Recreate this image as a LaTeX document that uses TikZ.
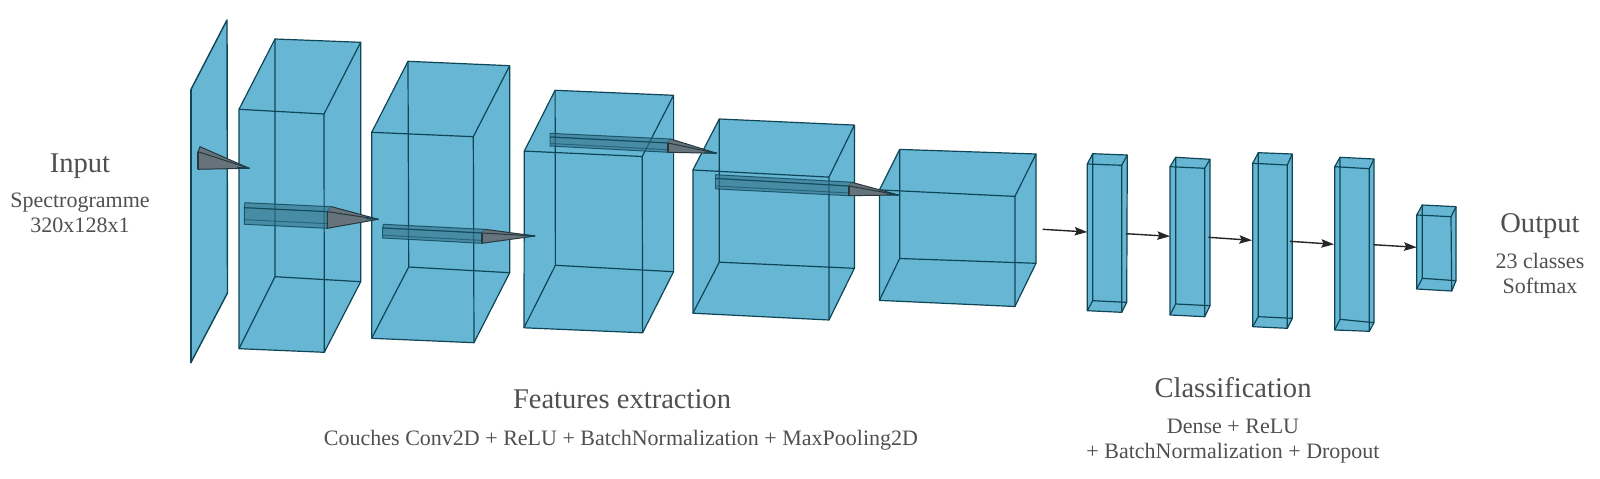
\documentclass[tikz,border=0pt]{standalone}
\usepackage{fontspec}
\setmainfont{Liberation Serif}
\usetikzlibrary{arrows.meta,calc}
\definecolor{boxfill}{HTML}{67B6D3}
\definecolor{boxedge}{HTML}{0E4557}
\definecolor{labelgrey}{HTML}{505050}
\definecolor{tubefill}{HTML}{35718A}
\definecolor{conefill}{HTML}{66737A}
\definecolor{conedark}{HTML}{26373F}
\tikzset{
  boxbody/.style={fill=boxfill,draw=none},
  boxline/.style={draw=boxedge,line width=0.85pt,line join=round},
  tubebody/.style={fill=tubefill,fill opacity=0.62,draw=boxedge,draw opacity=0.8,line width=0.7pt,line join=round},
  conebody/.style={fill=conefill,draw=conedark,line width=0.7pt,line join=round},
  flowarrow/.style={draw=black!85,line width=1pt,-{Stealth[length=9pt,width=6pt,inset=1.5pt]}},
  title/.style={text=labelgrey,anchor=base,inner sep=0pt,font=\fontsize{20.3}{24}\selectfont},
  sublabel/.style={text=labelgrey,anchor=base,inner sep=0pt,font=\fontsize{15.65}{18}\selectfont}
}
% name, front TL TR BR BL, back TL TR BR BL
\newcommand\cuboid[9]{%
  \coordinate (#1a) at #2; \coordinate (#1b) at #3; \coordinate (#1c) at #4; \coordinate (#1d) at #5;
  \coordinate (#1e) at #6; \coordinate (#1f) at #7; \coordinate (#1g) at #8; \coordinate (#1h) at #9;
  \fill[boxbody] (#1a) -- (#1e) -- (#1f) -- (#1g) -- (#1c) -- (#1d) -- cycle;
  \draw[boxline] (#1e) -- (#1f) -- (#1g) -- (#1h) -- cycle;
  \draw[boxline] (#1a) -- (#1e) (#1b) -- (#1f) (#1c) -- (#1g) (#1d) -- (#1h);
  \draw[boxline] (#1a) -- (#1b) -- (#1c) -- (#1d) -- cycle;
}
% back-top left/right, front-top left/right, front-bottom left/right, tip
\newcommand\tuber[7]{%
  \draw[tubebody] #1 -- #2 -- #4 -- #3 -- cycle;
  \draw[tubebody] #3 -- #4 -- #6 -- #5 -- cycle;
  \draw[boxedge,opacity=0.55,line width=0.7pt] ($#3!0.72!#5$) -- ($#4!0.72!#6$);
  \fill[conefill] #2 -- #7 -- #6 -- #4 -- cycle;
  \draw[conebody] #4 -- #7 -- #6 -- cycle;
  \draw[draw=conedark,line width=0.7pt] #2 -- #7;
  \draw[conedark,line width=1.1pt] #4 -- #6;
  \draw[boxedge,line width=1pt] ($#7+(-12,-1)$) -- #7;
}
\begin{document}
\begin{tikzpicture}[x=0.025cm,y=-0.025cm]
\useasboundingbox (0,0) rectangle (1600,479);
\fill[white] (0,0) rectangle (1600,479);

% input plane
\coordinate (pa) at (190.7,90); \coordinate (pb) at (227,20);
\coordinate (pc) at (227.5,293); \coordinate (pd) at (190.7,363);
\fill[boxbody] (pa) -- (pb) -- (pc) -- (pd) -- cycle;
\draw[boxline,line width=1pt] (pa) -- (pb) -- (pc) -- (pd);
\draw[boxline,line width=1.7pt] (pd) -- (pa);

\cuboid{A}{(239,109.3)}{(324,114)}{(324.3,352.3)}{(239,348.7)}{(275,39)}{(360.7,42.3)}{(360.7,281.7)}{(275,276.7)}
\cuboid{B}{(371.7,132.3)}{(473.3,136.7)}{(474,342.7)}{(371.7,338.3)}{(408,61.3)}{(509.7,65.7)}{(509.7,272.7)}{(408.7,267)}
\cuboid{C}{(524.3,151.1)}{(642.2,156.5)}{(642.6,332.8)}{(524,327.8)}{(555.1,90.3)}{(673.6,95.3)}{(673.6,271.7)}{(555.4,265.3)}
\cuboid{D}{(692.9,170)}{(829,177.1)}{(829,320)}{(692.9,313.2)}{(719.3,119)}{(854.4,125.1)}{(854.4,268.3)}{(719.3,262.2)}
\cuboid{E}{(879.4,189.9)}{(1014.9,196.4)}{(1014.9,306.5)}{(879.4,300.4)}{(899.7,149.4)}{(1036,154)}{(1036,263.3)}{(899.7,258.5)}

\cuboid{F}{(1087.3,164)}{(1121.7,165.3)}{(1121.7,312.3)}{(1087.3,310.7)}{(1092.7,153.7)}{(1127.3,155)}{(1126.7,302.3)}{(1092.7,300.7)}
\cuboid{G}{(1170,166.7)}{(1204.7,168.3)}{(1204.7,316.7)}{(1170,315)}{(1175.7,157.3)}{(1210,159.3)}{(1210,305.7)}{(1175.7,304)}
\cuboid{H}{(1252.7,163.3)}{(1287.3,165)}{(1287.3,328.3)}{(1252.7,326.7)}{(1258.3,152.7)}{(1292.3,154)}{(1292.3,318.3)}{(1258.3,316.7)}
\cuboid{I}{(1334.7,166.7)}{(1369.3,168.7)}{(1369.3,331.3)}{(1334.7,330)}{(1340,157.3)}{(1374,159)}{(1374,322.7)}{(1340,319.3)}
\cuboid{J}{(1416.7,215)}{(1451,216.7)}{(1451.7,291)}{(1416.7,289)}{(1422.3,205)}{(1456,206.7)}{(1456,280.7)}{(1422.3,278.3)}

% first cone, from the plane
\fill[conefill] (200,146.7) -- (249.3,168.3) -- (198,169.3) -- (198,151.7) -- cycle;
\draw[conebody,fill=conefill] (198,151.7) -- (249.3,168.3) -- (198,169.3) -- cycle;
\draw[draw=conedark,line width=0.7pt] (198,151.7) -- (200,146.7) -- (249.3,168.3);
\draw[conedark,line width=1.1pt] (198,151.7) -- (198,169.3);
\draw[boxedge,line width=1pt] (237,167.5) -- (249.3,168.3);

% tapered tubes between the convolution blocks
\tuber{(245,202.7)}{(331.7,206.7)}{(244.3,207.7)}{(327.3,211.7)}{(244.3,224.3)}{(327.3,228.3)}{(378.3,219.3)}
\tuber{(383.3,224.3)}{(485,229.3)}{(382.7,228)}{(482,233)}{(382.7,238)}{(482,243.3)}{(535,236)}
\tuber{(550,133.3)}{(670.7,139)}{(550,137)}{(668,143)}{(550,146)}{(668,152.3)}{(716.7,153.3)}
\tuber{(715.5,174.7)}{(851.4,182.2)}{(715.5,178.5)}{(849,186)}{(715.5,188.9)}{(849,195.7)}{(898.6,195)}

% dense arrows
\coordinate (Eout) at (1042.7,229.3);
\coordinate (Fin) at (1087.3,232);   \coordinate (Fout) at (1126,233.7);
\coordinate (Gin) at (1170,236.3);   \coordinate (Gout) at (1208.3,237.3);
\coordinate (Hin) at (1252,240.3);   \coordinate (Hout) at (1290,241.3);
\coordinate (Iin) at (1334,244.3);   \coordinate (Iout) at (1373.3,244.7);
\coordinate (Jin) at (1416.7,247.3);
\draw[flowarrow] (Eout) -- (Fin);
\draw[flowarrow] (Fout) -- (Gin);
\draw[flowarrow] (Gout) -- (Hin);
\draw[flowarrow] (Hout) -- (Iin);
\draw[flowarrow] (Iout) -- (Jin);

% labels
\node[title] (input) at (80,172) {Input};
\node[sublabel] (spec) at (80,207) {Spectrogramme};
\node[sublabel] (dims) at (80,232) {320x128x1};
\node[title] (features) at (622,408) {Features extraction};
\node[sublabel] (couches) at (621,445) {Couches Conv2D + ReLU + BatchNormalization + MaxPooling2D};
\node[title] (classif) at (1233,397) {Classification};
\node[sublabel] (dense) at (1233,433) {Dense + ReLU};
\node[sublabel] (batch) at (1233,458) {+ BatchNormalization + Dropout};
\node[title] (output) at (1540,232) {Output};
\node[sublabel] (classes) at (1540,268) {23 classes};
\node[sublabel] (softmax) at (1540,293) {Softmax};
\end{tikzpicture}
\end{document}
